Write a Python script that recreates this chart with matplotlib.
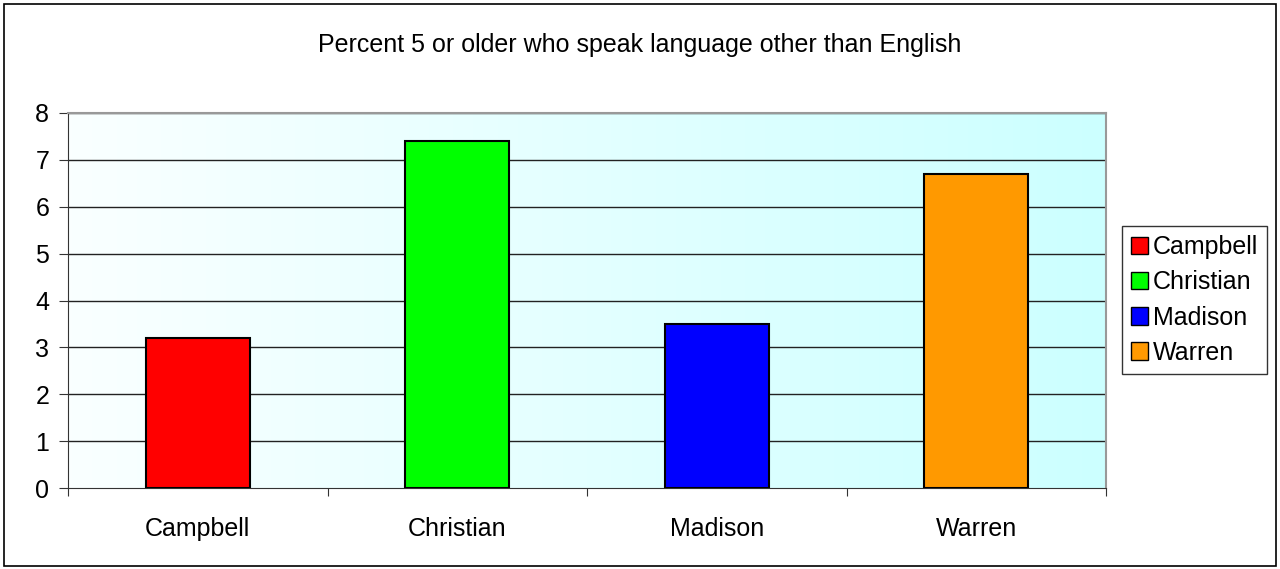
import matplotlib
matplotlib.use("Agg")
import matplotlib.pyplot as plt
import numpy as np
from matplotlib.patches import Rectangle, Patch
from matplotlib.colors import LinearSegmentedColormap

categories = ["Campbell", "Christian", "Madison", "Warren"]
values = [3.2, 7.4, 3.5, 6.7]
colors = ["#FF0000", "#00FF00", "#0000FF", "#FF9900"]
yticks = [0, 1, 2, 3, 4, 5, 6, 7, 8]
title = "Percent 5 or older who speak language other than English"

plt.rcParams['font.family'] = ['Liberation Sans', 'DejaVu Sans']
W, H = 1280, 569
FS = 18
fig = plt.figure(figsize=(W/100, H/100), dpi=100)

# plot area in pixels: x 68..1106, y 113..488
x0, x1, y0, y1 = 68, 1106, 113, 488
ax = fig.add_axes([x0/W, 1 - y1/H, (x1-x0)/W, (y1-y0)/H])

# gradient background
cmap = LinearSegmentedColormap.from_list("g", ["#FAFFFF", "#CCFFFF"])
grad = np.linspace(0, 1, 256).reshape(1, -1)
ax.imshow(grad, aspect='auto', cmap=cmap, extent=[0, 1, 0, 1],
          transform=ax.transAxes, zorder=0)

x = np.arange(len(categories))
ax.bar(x, values, width=0.4, color=colors, edgecolor='black', linewidth=1.5, zorder=3)
ax.set_xlim(-0.5, len(categories) - 0.5)
ax.set_ylim(0, 8)
ax.set_yticks(yticks)
ax.set_yticklabels([str(t) for t in yticks], fontsize=FS)
for t in yticks[1:]:
    ax.axhline(t, color='#222222', linewidth=1, zorder=1)

ax.set_xticks(np.arange(-0.5, len(categories), 1.0))
ax.set_xticklabels([])
ax.set_xticks(x, minor=True)
ax.set_xticklabels(categories, minor=True, fontsize=FS)
ax.tick_params(axis='x', which='minor', length=0, pad=21)
ax.tick_params(axis='x', which='major', length=6, direction='out', color='#333333')
ax.tick_params(axis='y', length=6.5, direction='out', pad=7, color='#333333')

for s in ['top', 'right']:
    ax.spines[s].set_color('#999999')
    ax.spines[s].set_linewidth(1.5)
ax.spines['left'].set_color('#333333')
ax.spines['bottom'].set_color('#333333')

fig.text(0.5, 1 - 45/H, title, ha='center', va='center', fontsize=FS)

handles = [Patch(facecolor=c, edgecolor='black', label=l) for c, l in zip(colors, categories)]
leg = fig.legend(handles=handles, loc='center left', bbox_to_anchor=(1122/W, 1 - 300/H),
                 fontsize=FS, frameon=True, fancybox=False, edgecolor='black',
                 handlelength=0.7, handleheight=0.7, handletextpad=0.2,
                 labelspacing=0.45, borderpad=0.35, borderaxespad=0)
leg.get_frame().set_linewidth(1)

# outer figure border
fig.patches.append(Rectangle((4/W, 3/H), (W-8)/W, (H-7)/H, transform=fig.transFigure,
                             fill=False, edgecolor='black', linewidth=1.2))

fig.savefig("out.png", dpi=100)
